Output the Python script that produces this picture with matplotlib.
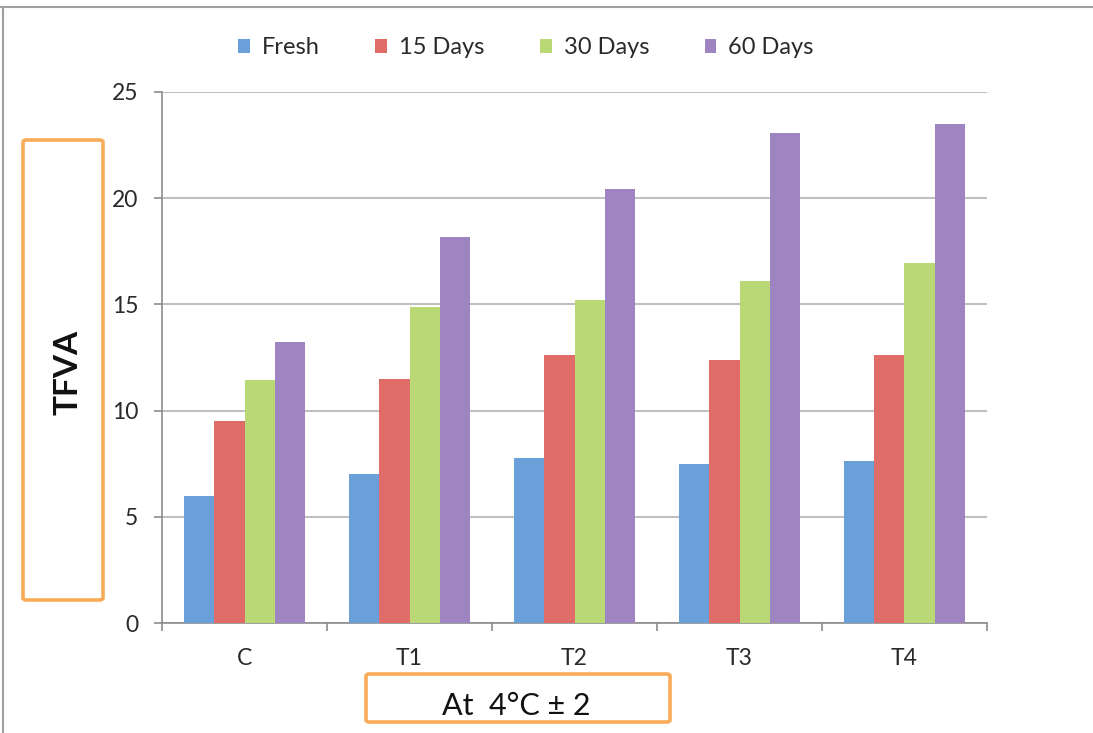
import matplotlib
matplotlib.use('Agg')
import matplotlib.pyplot as plt
import numpy as np
from matplotlib.patches import FancyBboxPatch
from matplotlib.lines import Line2D

categories = ['C', 'T1', 'T2', 'T3', 'T4']
series_names = ['Fresh', '15 Days', '30 Days', '60 Days']
fresh = [5.99, 7.03, 7.77, 7.47, 7.61]
days15 = [9.50, 11.49, 12.61, 12.36, 12.61]
days30 = [11.42, 14.87, 15.20, 16.08, 16.95]
days60 = [13.22, 18.18, 20.42, 23.08, 23.50]
yticks = [0, 5, 10, 15, 20, 25]
ylabel_text = 'TFVA'
xlabel_text = 'At  4°C ± 2'
colors = ['#6AA0DA', '#E06C6A', '#BAD876', '#9E84C0']

plt.rcParams['font.family'] = ['Lato', 'DejaVu Sans']

W, H = 1093, 733
fig = plt.figure(figsize=(W / 100, H / 100), dpi=100)

def fx(px):
    return px / W

def fy(py):
    return 1 - py / H

left, right, top, bottom = 162, 987, 92, 623
ax = fig.add_axes([fx(left), fy(bottom), fx(right) - fx(left), fy(top) - fy(bottom)])

x = np.arange(len(categories))
bw = 0.184
for i, (vals, name, c) in enumerate(zip([fresh, days15, days30, days60], series_names, colors)):
    ax.bar(x + (i - 1.5) * bw, vals, bw, color=c, label=name, zorder=3)

ax.set_xlim(-0.5, len(categories) - 0.5)
ax.set_ylim(0, 25)
ax.set_yticks(yticks)
ax.set_xticks(x)
ax.set_xticklabels(categories)
ax.set_xticks(np.arange(len(categories) + 1) - 0.5, minor=True)
ax.yaxis.grid(True, color='#C0C0C0', lw=1.5, zorder=0)
ax.set_axisbelow(True)
for s in ['top', 'right']:
    ax.spines[s].set_visible(False)
for s in ['left', 'bottom']:
    ax.spines[s].set_color('#8C8C8C')
    ax.spines[s].set_linewidth(1.2)
ax.tick_params(axis='y', length=6, width=1.2, color='#8C8C8C', labelsize=16.5, pad=11, labelcolor='#2A2A2A')
ax.tick_params(axis='x', which='major', length=0, labelsize=16.5, pad=18, labelcolor='#2A2A2A')
ax.tick_params(axis='x', which='minor', length=6, width=1.2, color='#8C8C8C')

leg = fig.legend(loc='center', bbox_to_anchor=(fx(526), fy(48)), ncol=4, frameon=False,
                 fontsize=17, handlelength=0.5, handleheight=0.5, handletextpad=0.5,
                 columnspacing=2.35)
for t in leg.get_texts():
    t.set_color('#2A2A2A')

orange = '#F9AC58'
fig.patches.append(FancyBboxPatch((fx(23), fy(600)), fx(103) - fx(23), fy(140) - fy(600),
                                  boxstyle='round,pad=0,rounding_size=0.003', transform=fig.transFigure,
                                  fill=False, edgecolor=orange, linewidth=2.6))
fig.patches.append(FancyBboxPatch((fx(366), fy(722)), fx(670) - fx(366), fy(674) - fy(722),
                                  boxstyle='round,pad=0,rounding_size=0.003', transform=fig.transFigure,
                                  fill=False, edgecolor=orange, linewidth=2.6))
fig.text(fx(68), fy(372), ylabel_text, rotation=90, ha='center', va='center',
         fontsize=24, fontweight='bold', color='#111111')
fig.text(fx(516), fy(706), xlabel_text, ha='center', va='center', fontsize=22, color='#111111')

fig.lines.append(Line2D([0, 1], [fy(7), fy(7)], transform=fig.transFigure, color='#A0A0A0', lw=1.5))
fig.lines.append(Line2D([fx(3), fx(3)], [0, fy(7)], transform=fig.transFigure, color='#A0A0A0', lw=1.5))

fig.savefig('out.png', dpi=100)
